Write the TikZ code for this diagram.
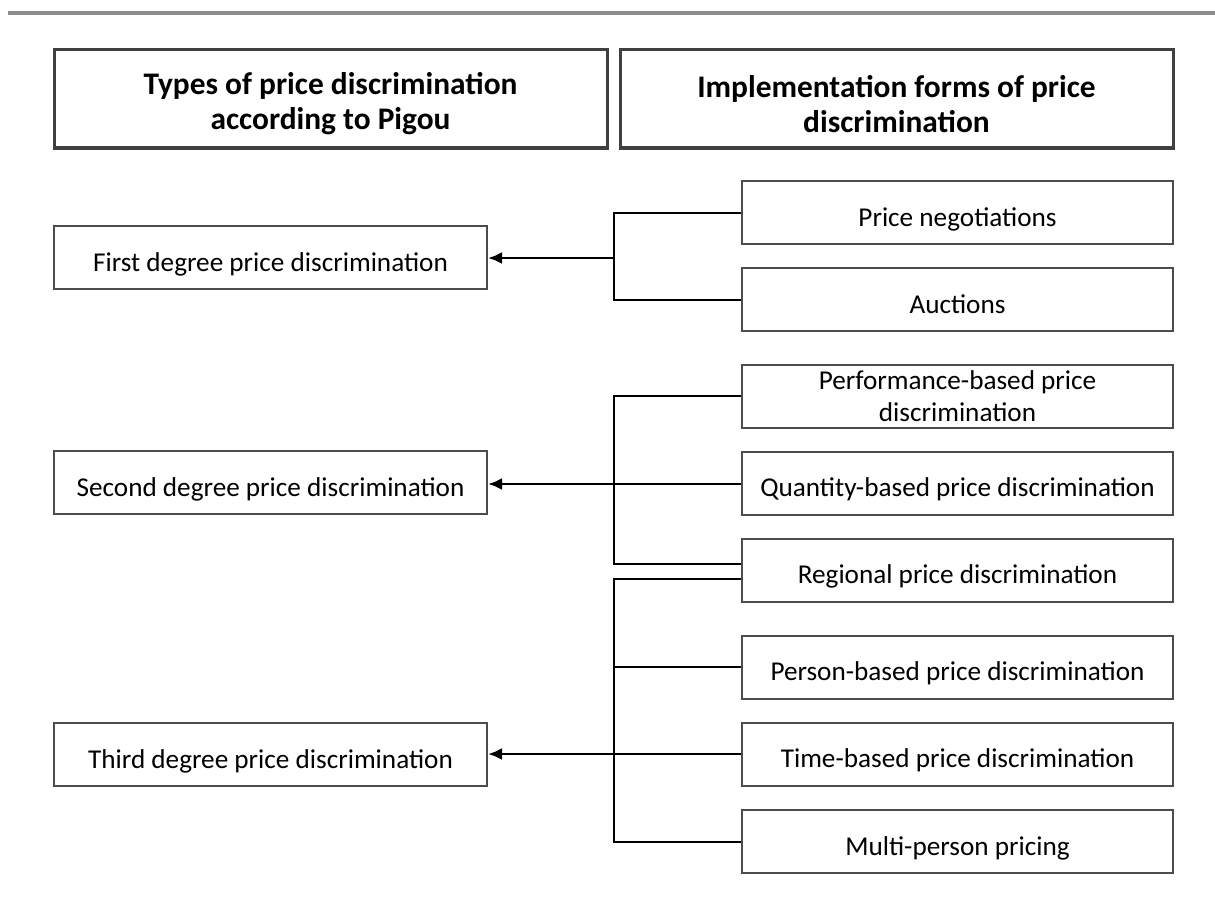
\documentclass[tikz,border=0pt]{standalone}
\usepackage{fontspec}
\setmainfont{Carlito}
\usetikzlibrary{arrows.meta}
\tikzset{
  x=0.5pt, y=-0.5pt,
  hdr/.style={draw=black!75, line width=1.5pt, minimum width=276.5pt, minimum height=49pt, inner sep=0pt},
  hdrtext/.style={align=center, inner sep=0pt, font=\fontsize{15.7}{17.5}\selectfont\bfseries},
  boxbase/.style={draw=black!70, line width=1pt, minimum height=31.5pt,
    align=center, inner sep=0pt, font=\fontsize{13.6}{16}\selectfont},
  lbox/.style={boxbase, minimum width=216.5pt, text height=13.7pt, text depth=0pt},
  rbox/.style={boxbase, minimum width=215.5pt, text height=13.7pt, text depth=0pt},
  rboxtwo/.style={boxbase, minimum width=215.5pt},
  conn/.style={draw=black, line width=1pt},
  trunk/.style={draw=black, line width=1.4pt, -{Latex[length=7pt,width=6pt]}},
}
\begin{document}
\begin{tikzpicture}
\useasboundingbox (0,0) rectangle (1215,899);
\coordinate (rl) at (8,13);
\coordinate (rr) at (1215,13);
\draw[black!45, line width=2pt] (rl) -- (rr);

\node[hdr] (h1) at (330.5,99) {};
\node[hdr] (h2) at (896.5,99) {};
\node[hdrtext] (h1t) at ([yshift=-2.5pt]h1.center) {Types of price discrimination\\according to Pigou};
\node[hdrtext] (h2t) at ([yshift=-2.5pt]h2.center) {Implementation forms of price\\discrimination};

\node[lbox] (first)  at (270.5,257.5) {First degree price discrimination};
\node[lbox] (second) at (270.5,482.5) {Second degree price discrimination};
\node[lbox] (third)  at (270.5,754.5) {Third degree price discrimination};

\node[rbox] (pn)  at (957.5,212.5) {Price negotiations};
\node[rbox] (au)  at (957.5,299.5) {Auctions};
\node[rboxtwo] (pb)  at (957.5,396) {Performance-based price\\discrimination};
\node[rbox] (qb)  at (957.5,483) {Quantity-based price discrimination};
\node[rbox] (rg)  at (957.5,570) {Regional price discrimination};
\node[rbox] (ps)  at (957.5,667) {Person-based price discrimination};
\node[rbox] (tb)  at (957.5,754) {Time-based price discrimination};
\node[rbox] (mp)  at (957.5,841.5) {Multi-person pricing};

% first degree
\coordinate (j1) at (614,258);
\draw[conn] (pn.west) -- (pn.west -| j1) -- (au.west -| j1) -- (au.west);
\draw[trunk] (j1) -- (first.east |- j1);

% second degree
\coordinate (j2) at (614,484);
\coordinate (rg2) at ([yshift=3pt]rg.west);
\draw[conn] (pb.west) -- (pb.west -| j2) -- (rg2 -| j2) -- (rg2);
\draw[conn] (j2) -- (qb.west |- j2);
\draw[trunk] (j2) -- (second.east |- j2);

% third degree
\coordinate (j3) at (614,754);
\coordinate (rg3) at ([yshift=-4.5pt]rg.west);
\draw[conn] (rg3) -- (rg3 -| j3) -- (mp.west -| j3) -- (mp.west);
\draw[conn] (ps.west -| j3) -- (ps.west);
\draw[conn] (j3) -- (tb.west |- j3);
\draw[trunk] (j3) -- (third.east |- j3);
\end{tikzpicture}
\end{document}
